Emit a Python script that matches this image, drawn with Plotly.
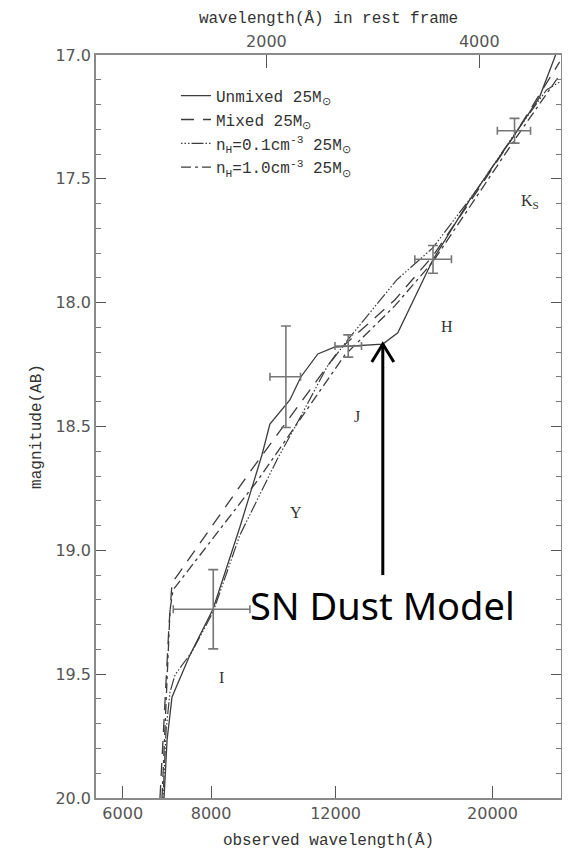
import numpy as np
import plotly.graph_objects as go

ONE_PLUS_Z = 4.79

# ---- model curves (observed wavelength in Angstrom, AB magnitude) ----
unmixed_wl = [6864, 6932, 7045, 7468, 8052, 8788, 9441, 9689, 10340, 10715, 11326, 11975,
              13994, 14695, 16465, 18571, 21490, 23312, 24565]
unmixed_mag = [20.0, 19.766, 19.592, 19.423, 19.237, 18.906, 18.615, 18.490, 18.393, 18.300,
               18.207, 18.179, 18.167, 18.122, 17.828, 17.585, 17.323, 17.170, 17.0]

mixed_wl = [6774, 6864, 6976, 7045, 9078, 12170, 14550, 16465, 18874, 21490, 24890]
mixed_mag = [20.0, 19.685, 19.301, 19.132, 18.684, 18.187, 17.989, 17.812, 17.565, 17.323, 17.028]

nh01_wl = [6841, 6910, 6999, 7114, 7229, 7516, 8052, 8788, 9911, 10682, 11665, 12572,
           14645, 16465, 18995, 21490, 23850, 24890]
nh01_mag = [20.0, 19.725, 19.572, 19.503, 19.475, 19.410, 19.249, 18.938, 18.635, 18.466,
            18.260, 18.139, 17.908, 17.779, 17.545, 17.319, 17.141, 17.109]

nh10_wl = [6819, 6910, 6999, 7068, 9319, 12370, 14550, 16465, 18874, 21490, 24890]
nh10_mag = [20.0, 19.604, 19.241, 19.160, 18.716, 18.211, 18.013, 17.836, 17.585, 17.343, 17.081]

# ---- photometry ----
bands = ["I", "Y", "J", "H", "K<sub>S</sub>"]
obs_wl = [8057, 10207, 12504, 16480, 21490]
obs_wl_minus = [983, 517, 529, 947, 1170]
obs_wl_plus = [1021, 499, 552, 1020, 1150]
obs_mag = [19.238, 18.299, 18.175, 17.825, 17.306]
obs_mag_err = [0.16, 0.205, 0.045, 0.056, 0.05]

label_wl = [8288, 10545, 12857, 17230, 22570]
label_mag = [19.515, 18.849, 18.458, 18.098, 17.592]

arrow_wl = 13994
arrow_head_mag = 18.167
arrow_tail_mag = 19.10
note_mag = 19.22

x_range = [5500, 25000]
y_ticks = [17.0, 17.5, 18.0, 18.5, 19.0, 19.5, 20.0]
x_ticks = [6000, 8000, 12000, 20000]
rest_ticks = [2000, 4000]

LINE_COL = "#3c3c3c"
AX_COL = "#8a8a8a"
TICK_FONT = dict(family="DejaVu Sans", size=16, color="#555555")
TITLE_FONT = dict(family="Liberation Mono", size=16, color="#333333")

fig = go.Figure()

fig.add_trace(go.Scatter(x=unmixed_wl, y=unmixed_mag, mode="lines",
                         name="Unmixed 25M<sub>⊙</sub>",
                         line=dict(color=LINE_COL, width=1.3)))
fig.add_trace(go.Scatter(x=mixed_wl, y=mixed_mag, mode="lines",
                         name="Mixed 25M<sub>⊙</sub>",
                         line=dict(color=LINE_COL, width=1.3, dash="13px,9px")))
fig.add_trace(go.Scatter(x=nh01_wl, y=nh01_mag, mode="lines",
                         name="n<sub>H</sub>=0.1cm<sup>-3</sup> 25M<sub>⊙</sub>",
                         line=dict(color=LINE_COL, width=1.2,
                                   dash="1.5px,2px,1.5px,2px,1.5px,2px,12px,2px")))
fig.add_trace(go.Scatter(x=nh10_wl, y=nh10_mag, mode="lines",
                         name="n<sub>H</sub>=1.0cm<sup>-3</sup> 25M<sub>⊙</sub>",
                         line=dict(color=LINE_COL, width=1.3, dash="10px,4px,3px,4px")))

fig.add_trace(go.Scatter(
    x=obs_wl, y=obs_mag, mode="markers", showlegend=False,
    marker=dict(size=1, color="rgba(0,0,0,0)"),
    error_x=dict(type="data", symmetric=False, array=obs_wl_plus, arrayminus=obs_wl_minus,
                 color="#777777", thickness=1.6, width=4),
    error_y=dict(type="data", array=obs_mag_err, color="#777777", thickness=1.6, width=5),
))

# invisible trace on top (rest-frame) axis
fig.add_trace(go.Scatter(x=[x_range[0] / ONE_PLUS_Z, x_range[1] / ONE_PLUS_Z], y=[20, 20],
                         xaxis="x2", mode="markers", showlegend=False, hoverinfo="skip",
                         marker=dict(size=1, color="rgba(0,0,0,0)")))

annotations = []
for b, lw, lm in zip(bands, label_wl, label_mag):
    annotations.append(dict(x=np.log10(lw), y=lm, xref="x", yref="y", text=b, showarrow=False,
                            font=dict(family="Liberation Serif", size=16, color="#333333")))
annotations.append(dict(x=np.log10(arrow_wl), y=note_mag, xref="x", yref="y",
                        text="SN Dust Model", showarrow=False,
                        font=dict(family="Noto Sans", size=38, color="black")))

shapes = [
    dict(type="line", xref="x", yref="y", x0=arrow_wl, x1=arrow_wl,
         y0=arrow_head_mag, y1=arrow_tail_mag, line=dict(color="black", width=3)),
    dict(type="path", xref="x", yref="y", xsizemode="pixel", ysizemode="pixel",
         xanchor=arrow_wl, yanchor=arrow_head_mag,
         path="M -11,-18 L 0,0 L 11,-18", line=dict(color="black", width=3)),
]

fig.update_layout(
    width=562, height=842, autosize=False,
    margin=dict(l=88, r=9, t=47, b=52),
    paper_bgcolor="white", plot_bgcolor="white",
    showlegend=True,
    legend=dict(x=0.172, y=0.968, xanchor="left", yanchor="top",
                font=dict(family="Liberation Mono", size=16, color="#333333"),
                bgcolor="rgba(0,0,0,0)", tracegroupgap=0, itemwidth=30),
    annotations=annotations,
    shapes=shapes,
    xaxis=dict(type="log", range=[np.log10(x_range[0]), np.log10(x_range[1])],
               tickvals=x_ticks, ticktext=[str(v) for v in x_ticks],
               ticks="inside", ticklen=12, tickwidth=1.3, tickcolor="#555555",
               showline=True, linecolor=AX_COL, linewidth=1.5, mirror=False,
               showgrid=False, zeroline=False, tickfont=TICK_FONT, automargin=False,
               title=dict(text="observed wavelength(Å)", font=TITLE_FONT, standoff=14)),
    xaxis2=dict(type="log", overlaying="x", side="top", anchor="y",
                range=[np.log10(x_range[0] / ONE_PLUS_Z), np.log10(x_range[1] / ONE_PLUS_Z)],
                tickvals=rest_ticks, ticktext=[str(v) for v in rest_ticks],
                ticks="inside", ticklen=13, tickwidth=1.3, tickcolor="#555555",
                showline=True, linecolor=AX_COL, linewidth=1.5,
                showgrid=False, zeroline=False, tickfont=TICK_FONT, automargin=False,
                title=dict(text="wavelength(Å) in rest frame", font=TITLE_FONT, standoff=4)),
    yaxis=dict(range=[20.0, 17.0], tickvals=y_ticks, ticktext=[f"{v:.1f}" for v in y_ticks],
               ticks="inside", ticklen=10, tickwidth=1.3, tickcolor="#555555",
               minor=dict(dtick=0.1, tick0=17.0, ticks="inside", ticklen=5, tickcolor="#777777"),
               showline=True, linecolor=AX_COL, linewidth=1.5, mirror="ticks",
               showgrid=False, zeroline=False, tickfont=TICK_FONT, automargin=False,
               title=dict(text="magnitude(AB)", font=TITLE_FONT, standoff=10)),
)

fig.write_html("out.html")
